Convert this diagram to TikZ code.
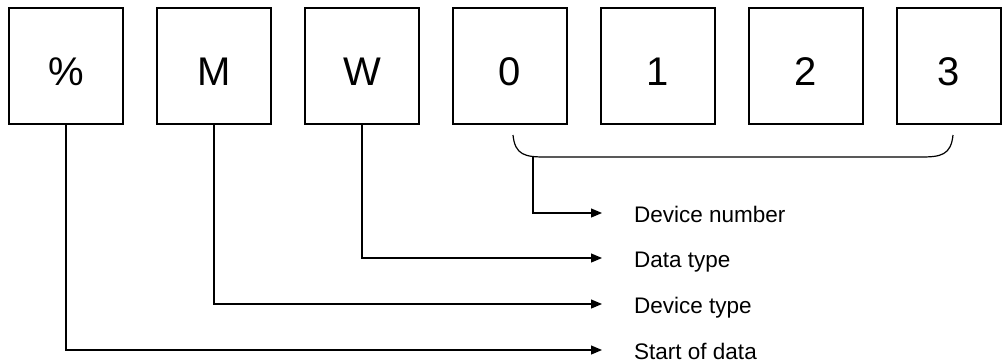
\documentclass[tikz,border=0pt]{standalone}
\usepackage{fontspec}
\setmainfont{Liberation Sans}
\usetikzlibrary{arrows.meta,positioning}

\begin{document}
\begin{tikzpicture}[x=1pt,y=-1pt,
    cell/.style={draw,line width=1.2pt,minimum width=114pt,minimum height=116pt,
      inner sep=0pt,text height=38pt,text depth=0pt,font=\fontsize{40}{44}\selectfont},
    lbl/.style={anchor=base west,inner sep=0pt,font=\fontsize{22.5}{26}\selectfont},
    conn/.style={line width=1.2pt,-{Triangle[length=11pt,width=9pt]}}]
  \useasboundingbox (0,0) rectangle (1002,362);
  % frame cells
  \node[cell] (pct) at (66,66) {\%};
  \node[cell] (m) at (214,66) {M};
  \node[cell] (w) at (362,66) {W};
  \node[cell] (d0) at (510,66) {0};
  \node[cell] (d1) at (658,66) {1};
  \node[cell] (d2) at (806,66) {2};
  \node[cell,minimum width=104pt] (d3) at (949,66) {3};
  % bracket under the device number
  \draw[line width=1.2pt] (513,135) .. controls (515,155) and (525,157) .. (545,157)
    -- (921,157) .. controls (941,157) and (951,155) .. (953,135);
  \coordinate (brc) at (533,157);
  % arrow ends
  \coordinate (e1) at (602,213);
  \coordinate (e2) at (602,258);
  \coordinate (e3) at (602,304);
  \coordinate (e4) at (602,350);
  \draw[conn] (brc) |- (e1);
  \draw[conn] (w.south) |- (e2);
  \draw[conn] (m.south) |- (e3);
  \draw[conn] (pct.south) |- (e4);
  \node[lbl] (num) at ([xshift=32pt,yshift=-9pt]e1) {Device number};
  \node[lbl] (dtype) at ([xshift=32pt,yshift=-9pt]e2) {Data type};
  \node[lbl] (devtype) at ([xshift=32pt,yshift=-9pt]e3) {Device type};
  \node[lbl] (start) at ([xshift=32pt,yshift=-9pt]e4) {Start of data};
\end{tikzpicture}
\end{document}
